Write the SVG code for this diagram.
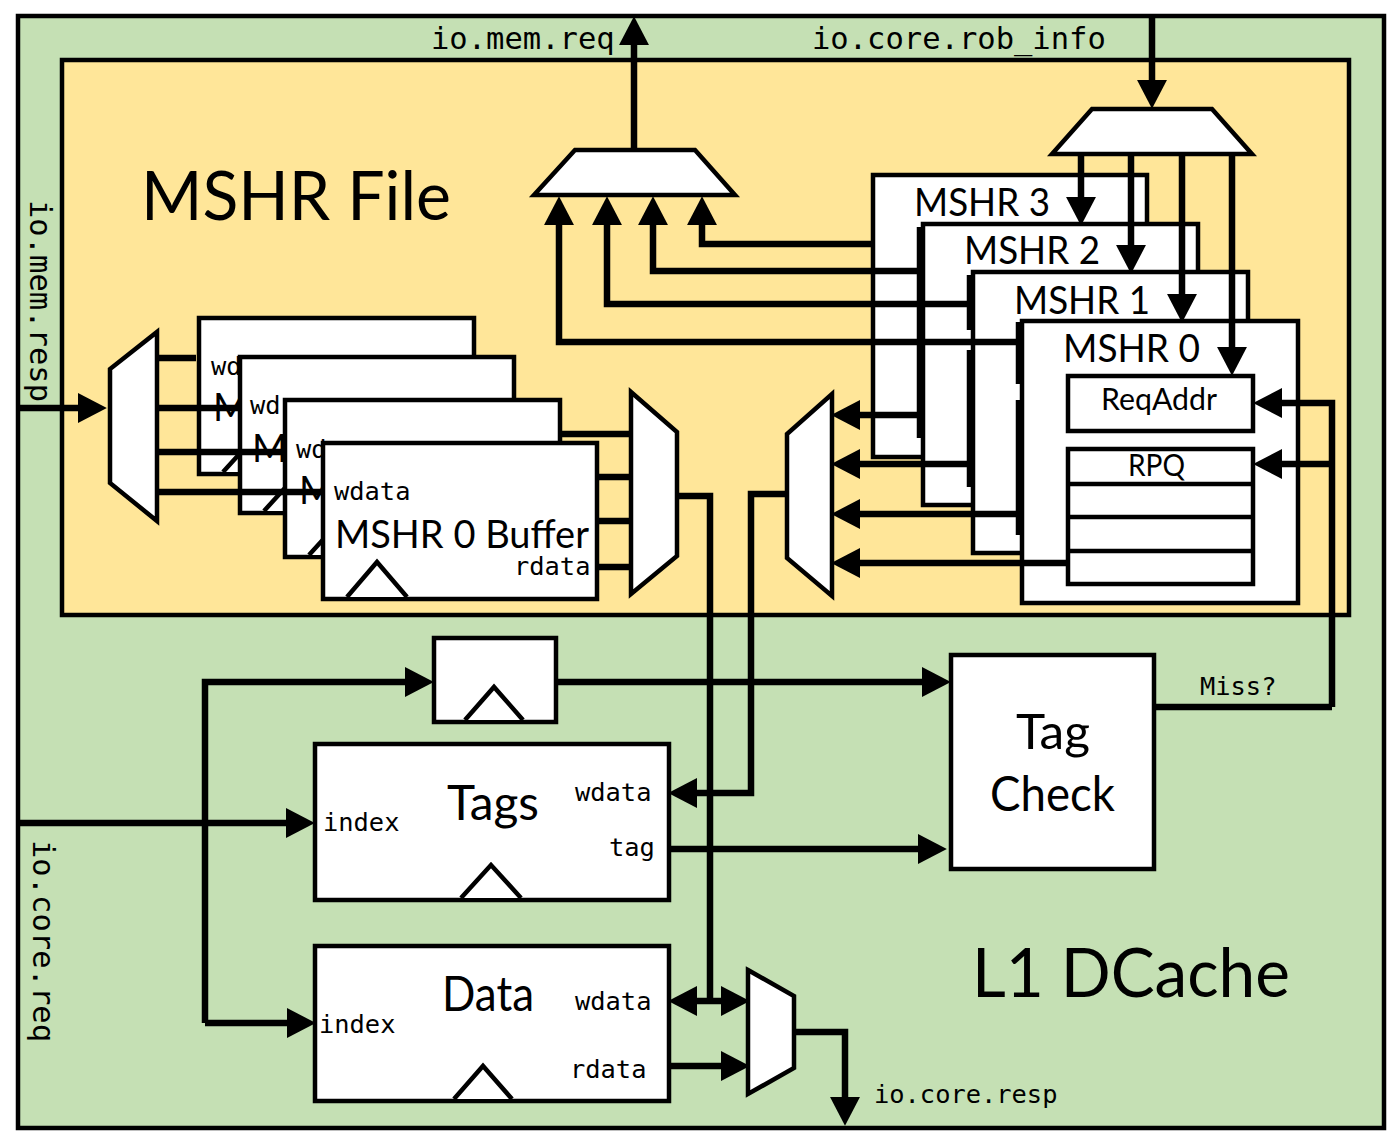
<svg xmlns="http://www.w3.org/2000/svg" width="1399" height="1145" viewBox="0 0 1399 1145">
<style>
.b{fill:#fff;stroke:#000;stroke-width:4.5}
.c{fill:none;stroke:#000;stroke-width:6.5;stroke-linejoin:miter}
.a{marker-end:url(#h)}
text{fill:#000}
.m{font-family:"DejaVu Sans Mono","Liberation Mono",monospace}
.s{font-family:Lato,"Liberation Sans",sans-serif}
.m30{font-size:30.5px}.m25{font-size:25.4px}
</style>
<defs>
<marker id="h" markerUnits="userSpaceOnUse" markerWidth="30" markerHeight="30" viewBox="0 0 28 28" refX="1" refY="14" orient="auto"><path d="M0 0L27 14L0 28Z" fill="#000"/></marker>
</defs>
<rect width="1399" height="1145" fill="#fff"/>
<g id="l1dcache"><rect x="18" y="16" width="1366" height="1112" fill="#C5E0B4" stroke="#000" stroke-width="4.5"/>
<text class="s" x="972" y="997" font-size="68" textLength="318" lengthAdjust="spacingAndGlyphs">L1 DCache</text></g>
<g id="mshr-file"><rect x="62" y="60" width="1287" height="555" fill="#FFE699" stroke="#000" stroke-width="4.5"/>
<text class="s" x="141" y="220" font-size="68" textLength="310" lengthAdjust="spacingAndGlyphs">MSHR File</text></g>
<g id="labels">
<text class="m m30" x="431" y="49">io.mem.req</text>
<text class="m m30" x="812" y="49">io.core.rob_info</text>
<text class="m m30" transform="translate(30 200) rotate(90)">io.mem.resp</text>
<text class="m m30" transform="translate(33 840) rotate(90)">io.core.req</text>
<text class="m m25" x="874" y="1103">io.core.resp</text>
<text class="m m25" x="1200" y="695">Miss?</text>
</g>
<g id="buffer-3"><rect class="b" x="199" y="318" width="275" height="156"/><path class="b" d="M223 472L253 439L283 472"/><text class="m m25" x="211" y="375">wd</text><text class="s" x="213" y="421" font-size="38">M</text></g>
<g id="buffer-2"><rect class="b" x="240" y="357" width="274" height="156"/><path class="b" d="M264 511L294 478L324 511"/><text class="m m25" x="250" y="414">wd</text><text class="s" x="252" y="462" font-size="38">M</text></g>
<g id="buffer-1"><rect class="b" x="285" y="400" width="275" height="157"/><path class="b" d="M309 555L339 522L369 555"/><text class="m m25" x="296" y="458">wd</text><text class="s" x="299" y="504" font-size="38">M</text></g>
<g id="buffer-0"><rect class="b" x="323" y="443" width="274" height="156"/><path class="b" d="M347 597L377 562L407 597"/>
<text class="m m25" x="334" y="500">wdata</text>
<text class="s" x="335" y="548" font-size="38" textLength="254" lengthAdjust="spacingAndGlyphs">MSHR 0 Buffer</text>
<text class="m m25" x="514" y="575">rdata</text></g>
<g id="mshr-3"><rect class="b" x="873" y="175" width="274" height="282"/><text class="s" x="914" y="216" font-size="38" textLength="136" lengthAdjust="spacingAndGlyphs">MSHR 3</text></g>
<g id="mshr-2"><rect class="b" x="923" y="224" width="275" height="281"/><text class="s" x="964" y="264" font-size="38" textLength="136" lengthAdjust="spacingAndGlyphs">MSHR 2</text></g>
<g id="mshr-1"><rect class="b" x="973" y="272" width="275" height="281"/><text class="s" x="1014" y="314" font-size="38" textLength="136" lengthAdjust="spacingAndGlyphs">MSHR 1</text></g>
<g id="mshr-0"><rect class="b" x="1022" y="321" width="276" height="282"/><text class="s" x="1063" y="362" font-size="38" textLength="137" lengthAdjust="spacingAndGlyphs">MSHR 0</text></g>
<g id="reqaddr"><rect class="b" x="1068" y="376" width="185" height="55"/><text class="s" x="1101" y="410" font-size="30" textLength="116" lengthAdjust="spacingAndGlyphs">ReqAddr</text></g>
<g id="rpq"><rect class="b" x="1068" y="449" width="185" height="135"/><path class="b" d="M1068 484H1253M1068 517H1253M1068 551H1253"/><text class="s" x="1128" y="476" font-size="30" textLength="57" lengthAdjust="spacingAndGlyphs">RPQ</text></g>
<g id="mux-mem-req"><path class="b" d="M575 150H695L735 195H534Z"/></g>
<g id="mux-rob-info"><path class="b" d="M1092 109H1212L1252 154H1052Z"/></g>
<g id="mux-buffer-in"><path class="b" d="M157 332V521L110 483V369Z"/></g>
<g id="mux-buffer-out"><path class="b" d="M631 392L677 432V556L631 594Z"/></g>
<g id="mux-mshr"><path class="b" d="M832 394V596L787 558V434Z"/></g>
<g id="mux-resp"><path class="b" d="M748 970L794 996V1068L748 1094Z"/></g>
<g id="register"><rect class="b" x="434" y="638" width="122" height="84"/><path class="b" d="M465 720L494 687L523 720"/></g>
<g id="tags"><rect class="b" x="315" y="744" width="354" height="156"/><path class="b" d="M461 898L491 865L521 898"/>
<text class="m m25" x="323" y="831">index</text>
<text class="s" x="447" y="820" font-size="48" textLength="92" lengthAdjust="spacingAndGlyphs">Tags</text>
<text class="m m25" x="575" y="801">wdata</text>
<text class="m m25" x="609" y="856">tag</text></g>
<g id="data"><rect class="b" x="315" y="946" width="354" height="155"/><path class="b" d="M454 1099L483 1066L512 1099"/>
<text class="m m25" x="319" y="1033">index</text>
<text class="s" x="442" y="1011" font-size="48" textLength="92" lengthAdjust="spacingAndGlyphs">Data</text>
<text class="m m25" x="575" y="1010">wdata</text>
<text class="m m25" x="570" y="1078">rdata</text></g>
<g id="tag-check"><rect class="b" x="951" y="655" width="203" height="214"/>
<text class="s" x="1016" y="749" font-size="48" textLength="74" lengthAdjust="spacingAndGlyphs">Tag</text>
<text class="s" x="990" y="811" font-size="48" textLength="125" lengthAdjust="spacingAndGlyphs">Check</text></g>
<g id="connectors">
<path class="c a" d="M634 150V44"/>
<path class="c a" d="M1152 16V81"/>
<path class="c a" d="M872 244H702V224"/>
<path class="c a" d="M920 271H653V224"/>
<path class="c a" d="M970 304H607V224"/>
<path class="c a" d="M1020 342H559V224"/>
<path class="c a" d="M1081 154V198"/>
<path class="c a" d="M1131 154V246"/>
<path class="c a" d="M1182 154V295"/>
<path class="c a" d="M1232 154V348"/>
<path class="c" d="M920 227V438M970 275V330M970 350V487M1019 322V384M1019 400V535"/>
<path class="c a" d="M920 415H859"/>
<path class="c a" d="M970 464H859"/>
<path class="c a" d="M1019 514H859"/>
<path class="c a" d="M1068 563H859"/>
<path class="c a" d="M1332 707V403H1281"/>
<path class="c" d="M1154 707H1332"/>
<path class="c a" d="M1332 464H1281"/>
<path class="c a" d="M18 408H79"/>
<path class="c" d="M157 358H196M157 408H240M157 452H285M157 492H323"/>
<path class="c" d="M560 434H631M597 477H631M597 521H631M597 567H631"/>
<path class="c a" d="M786 494H751V793H696"/>
<path class="c" d="M677 496H710V1001"/>
<path class="c a" d="M710 1001H696"/>
<path class="c a" d="M710 1001H722"/>
<path class="c a" d="M669 1066H722"/>
<path class="c a" d="M794 1032H845V1098"/>
<path class="c a" d="M205 1023V682H406"/>
<path class="c a" d="M556 682H923"/>
<path class="c a" d="M18 823H287"/>
<path class="c a" d="M205 1023H288"/>
<path class="c a" d="M669 849H919"/>
</g>
</svg>
